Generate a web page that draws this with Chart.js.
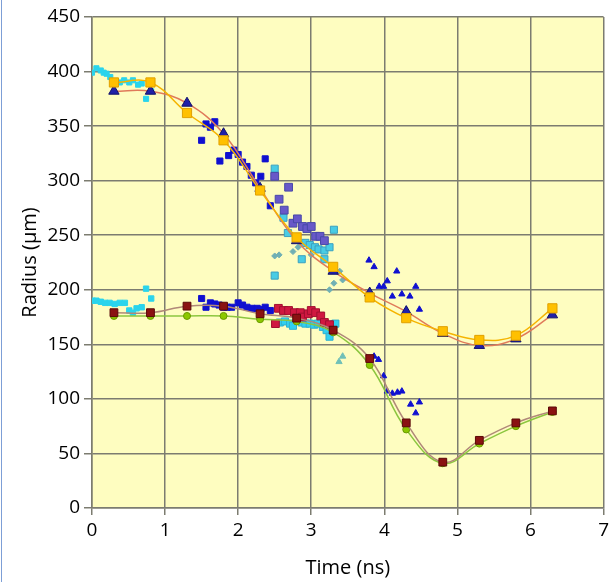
<!DOCTYPE html>
<html>
<head>
<meta charset="utf-8">
<script src="https://cdn.jsdelivr.net/npm/chart.js@4"></script>
<style>
html, body { margin: 0; padding: 0; background: #fff; }
#wrap { position: relative; width: 613px; height: 582px; }
#edge { position: absolute; left: 1px; top: 0; width: 1px; height: 582px; background: #7d9fd6; }
</style>
</head>
<body>
<div id="wrap"><canvas id="chart" width="613" height="582"></canvas><div id="edge"></div></div>
<script>
// fitted curves (simulation), shared time axis
const fitX = [0.3, 0.8, 1.3, 1.8, 2.3, 2.8, 3.3, 3.8, 4.3, 4.8, 5.3, 5.8, 6.3];
const outerSquareY = [390, 390, 362, 337, 291, 248, 221, 193, 174, 162, 154, 158, 183];
const outerTriangleY = [382, 382, 371, 343, 293, 245, 217, 197, 180, 160, 149, 155, 177];
const innerSquareY = [179, 179, 185, 185, 178, 174, 163, 137, 78, 42, 62, 78, 89];
const innerCircleY = [176, 176, 176, 176, 173, 171, 161, 131, 72, 41, 59, 75, 88];

// measured points
const cyanTopX = [0.0, 0.06, 0.12, 0.16, 0.2, 0.25, 0.38, 0.44, 0.51, 0.56, 0.63, 0.68, 0.74, 0.81];
const cyanTopY = [399, 403, 401, 399, 398, 395, 390, 392, 390, 392, 388, 389, 375, 382];

const blueTopX = [1.5, 1.56, 1.62, 1.68, 1.75, 1.87, 1.94, 2.0, 2.06, 2.12, 2.18, 2.24, 2.31, 2.37, 2.44];
const blueTopY = [337, 352, 349, 354, 318, 323, 328, 324, 317, 313, 305, 298, 304, 320, 277];

const violetX = [2.5, 2.69, 2.56, 2.63, 2.75, 2.81, 2.88, 2.94, 3.0, 3.06, 3.12, 3.18];
const violetY = [304, 294, 283, 273, 261, 265, 258, 256, 258, 249, 249, 245];

const cyanMidX = [2.5, 2.62, 2.68, 2.92, 2.98, 3.05, 3.1, 3.18, 3.25, 3.31, 2.87, 2.5, 3.18];
const cyanMidY = [311, 266, 252, 243, 241, 239, 237, 236, 239, 255, 228, 213, 228];

const diamondX = [2.5, 2.56, 2.75, 2.82, 3.0, 3.31, 3.25, 3.39, 3.43];
const diamondY = [231, 232, 235, 239, 232, 206, 200, 217, 209];

const triangleX = [3.79, 3.86, 4.17, 4.04, 3.93, 3.99, 4.43, 4.11, 4.24, 4.35, 4.48,
  3.86, 3.92, 3.99, 4.04, 4.11, 4.18, 4.24, 4.36, 4.48, 4.43];
const triangleY = [227, 221, 217, 208, 203, 203, 203, 194, 196, 194, 182,
  139, 136, 121, 107, 105, 106, 107, 95, 97, 87];

const tealTriX = [3.43, 3.38];
const tealTriY = [139, 134];

const blueLowX = [1.5, 1.56, 1.62, 1.68, 1.74, 1.8, 1.85, 1.91, 2.0, 2.06, 2.12, 2.19, 2.26, 2.31, 2.37, 2.44];
const blueLowY = [192, 184, 188, 187, 186, 184, 184, 184, 188, 186, 184, 183, 183, 182, 184, 181];

const cyanLeftX = [0.01, 0.06, 0.12, 0.18, 0.24, 0.31, 0.38, 0.45, 0.51, 0.56, 0.61, 0.68, 0.74, 0.81];
const cyanLeftY = [190, 190, 189, 188, 188, 187, 188, 188, 181, 179, 183, 184, 201, 192];

const redX = [2.55, 2.62, 2.69, 2.77, 2.85, 2.88, 2.96, 3.0, 3.06, 3.13, 3.18, 3.25, 2.51];
const redY = [183, 181, 181, 179, 179, 175, 178, 181, 179, 176, 170, 168, 169];

const cyanLowX = [2.57, 2.64, 2.71, 2.75, 2.87, 2.92, 2.98, 3.04, 3.09, 3.16, 3.21, 3.25, 3.3, 3.33];
const cyanLowY = [170, 171, 169, 167, 170, 169, 169, 168, 169, 166, 163, 157, 168, 169];

const pts = (xs, ys) => xs.map((x, i) => ({ x, y: ys[i] }));

const fit = (ys, style, radius, fill, border, line) => ({
  data: pts(fitX, ys),
  showLine: true,
  tension: 0.4,
  borderColor: line,
  borderWidth: 1.5,
  pointStyle: style,
  pointRadius: radius,
  pointBackgroundColor: fill,
  pointBorderColor: border,
  pointBorderWidth: 1,
  order: 0,
});

const cloud = (xs, ys, style, radius, fill, border) => ({
  data: pts(xs, ys),
  showLine: false,
  pointStyle: style,
  pointRadius: radius,
  pointBackgroundColor: fill,
  pointBorderColor: border || fill,
  pointBorderWidth: 1,
  order: 10,
});

const datasets = [
  fit(outerSquareY, 'rect', 6.5, '#ffc000', '#e0a000', '#f5b400'),
  fit(outerTriangleY, 'triangle', 6, '#2020a8', '#10106a', '#e07a5a'),
  fit(innerSquareY, 'rect', 5.5, '#8a1212', '#5a0808', '#b08878'),
  fit(innerCircleY, 'circle', 3.5, '#8cc800', '#6a9a00', '#8cc63f'),
  cloud(cyanTopX, cyanTopY, 'rect', 3.6, '#2ad4ec'),
  cloud(blueTopX, blueTopY, 'rect', 4.3, '#1010d0'),
  cloud(violetX, violetY, 'rect', 5.5, '#6858c8', '#4848a8'),
  cloud(cyanMidX, cyanMidY, 'rect', 5, '#48cce4', '#3aa0c0'),
  cloud(diamondX, diamondY, 'rectRot', 3, '#70b0b4'),
  cloud(triangleX, triangleY, 'triangle', 3.6, '#1010d0'),
  cloud(tealTriX, tealTriY, 'triangle', 3.6, '#70c0b8'),
  cloud(blueLowX, blueLowY, 'rect', 4.3, '#1010d0'),
  cloud(cyanLeftX, cyanLeftY, 'rect', 3.8, '#2ad4ec'),
  cloud(redX, redY, 'rect', 5.5, '#d01840', '#a01030'),
  cloud(cyanLowX, cyanLowY, 'rect', 5, '#30d0f0', '#30b0d0'),
];

const plotBg = {
  id: 'plotBg',
  beforeDraw(chart) {
    const { ctx, chartArea: a } = chart;
    ctx.save();
    ctx.fillStyle = '#fefdc0';
    ctx.fillRect(a.left, a.top, a.right - a.left, a.bottom - a.top);
    ctx.restore();
  }
};

const gridColor = '#7c7c70';
const font = { family: "'Open Sans', sans-serif", size: 19 };

new Chart(document.getElementById('chart'), {
  type: 'scatter',
  data: { datasets },
  plugins: [plotBg],
  options: {
    responsive: false,
    animation: false,
    devicePixelRatio: 1,
    layout: { padding: { top: 17, right: 5, left: 0, bottom: 0 } },
    plugins: { legend: { display: false }, tooltip: { enabled: false } },
    scales: {
      x: {
        type: 'linear',
        min: 0,
        max: 7,
        ticks: { stepSize: 1, color: '#000', font, padding: 4 },
        grid: { color: gridColor, lineWidth: 1.5, tickLength: 7 },
        border: { color: gridColor, width: 1.5 },
        title: { display: true, text: 'Time (ns)', color: '#000', font: { family: font.family, size: 20 }, padding: { top: 4, bottom: 2 } },
        afterFit: s => { s.height = 74; },
      },
      y: {
        min: 0,
        max: 450,
        ticks: { stepSize: 50, color: '#000', font, padding: 4 },
        grid: { color: gridColor, lineWidth: 1.5, tickLength: 8 },
        border: { color: gridColor, width: 1.5 },
        title: { display: true, text: 'Radius (µm)', color: '#000', font: { family: font.family, size: 20 }, padding: { top: 18, bottom: 0 } },
        afterFit: s => { s.width = 92; },
      },
    },
  },
});
</script>
</body>
</html>
